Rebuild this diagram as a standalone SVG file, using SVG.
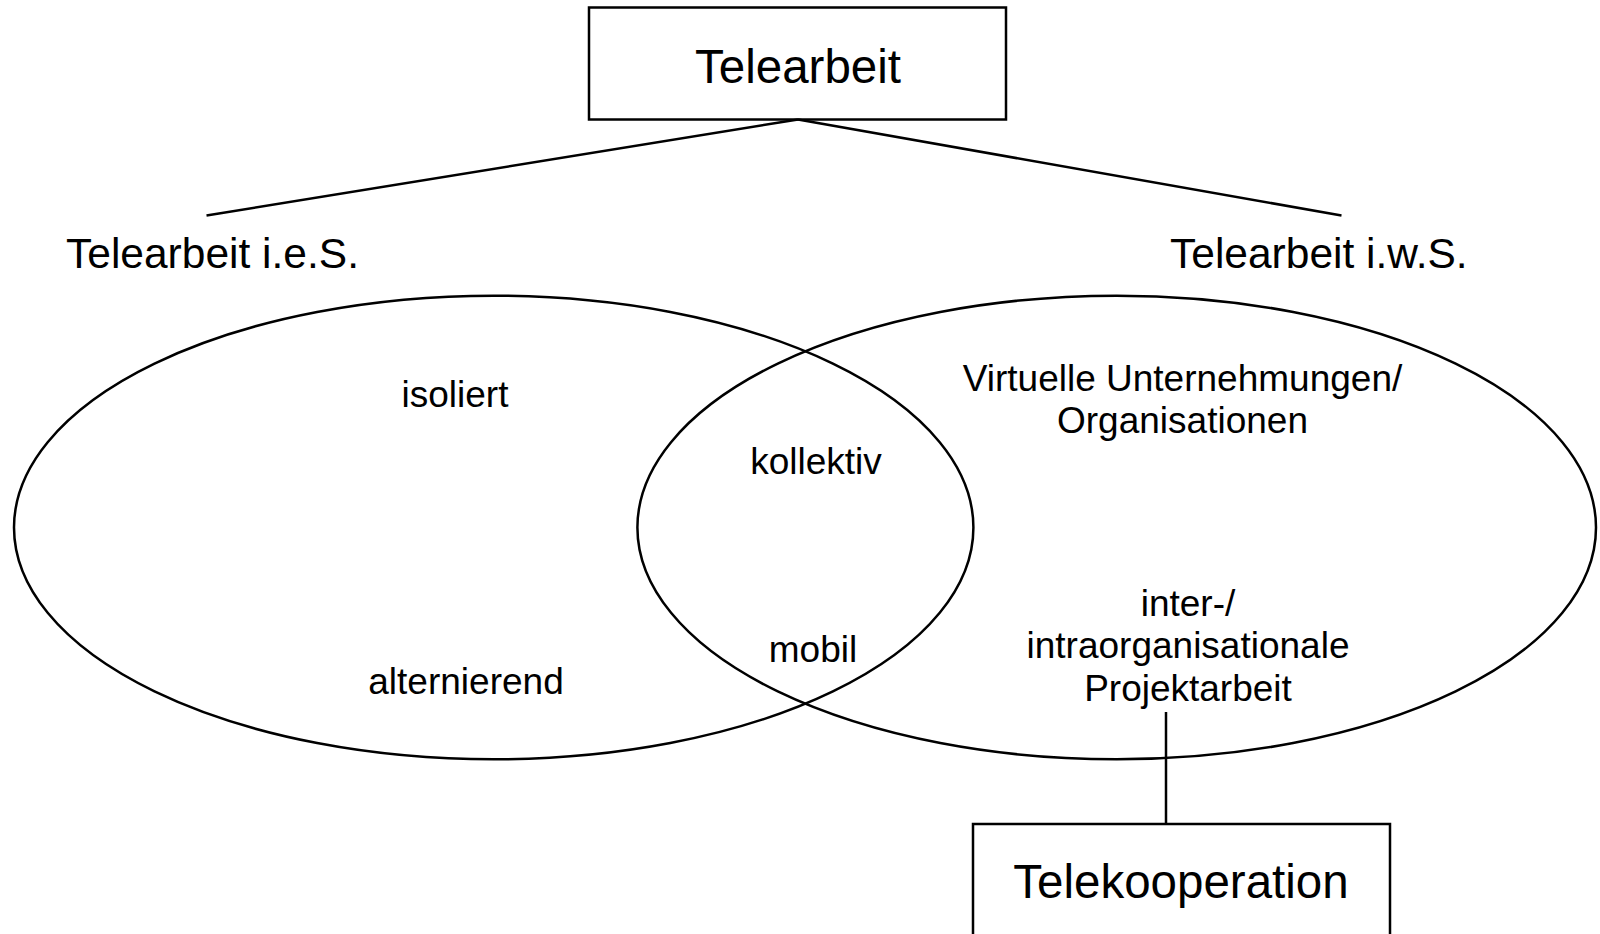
<svg xmlns="http://www.w3.org/2000/svg" width="1600" height="934" viewBox="0 0 1600 934">
<style>
.s{fill:none;stroke:#000;stroke-width:2.5}
text{font-family:"Liberation Sans",Arial,sans-serif;fill:#000}
.big{font-size:47.5px;text-anchor:middle}
.mid{font-size:42.5px}
.sm{font-size:37px;text-anchor:middle}
</style>
<rect width="1600" height="934" fill="#fff"/>
<g id="connectors">
<line class="s" x1="798" y1="119.5" x2="206.5" y2="215.5"/>
<line class="s" x1="798" y1="119.5" x2="1341.5" y2="215.5"/>
<line class="s" x1="1166" y1="712" x2="1166" y2="824"/>
</g>
<g id="node-telearbeit">
<rect class="s" x="589" y="7.5" width="417" height="112"/>
<text class="big" x="798" y="83">Telearbeit</text>
</g>
<g id="node-ies">
<text class="mid" x="66" y="268">Telearbeit i.e.S.</text>
</g>
<g id="node-iws">
<text class="mid" x="1170" y="268">Telearbeit i.w.S.</text>
</g>
<g id="ellipse-left">
<ellipse class="s" cx="493.7" cy="527.5" rx="479.7" ry="231.8"/>
</g>
<g id="ellipse-right">
<ellipse class="s" cx="1116.7" cy="527.5" rx="479.3" ry="231.8"/>
</g>
<g id="labels">
<text class="sm" x="455" y="407">isoliert</text>
<text class="sm" x="816" y="473.5">kollektiv</text>
<text class="sm" x="466" y="694">alternierend</text>
<text class="sm" x="813" y="662">mobil</text>
<text class="sm" x="1182.5" y="391">Virtuelle Unternehmungen/</text>
<text class="sm" x="1182.5" y="433">Organisationen</text>
<text class="sm" x="1188" y="616">inter-/</text>
<text class="sm" x="1188" y="658">intraorganisationale</text>
<text class="sm" x="1188" y="701">Projektarbeit</text>
</g>
<g id="node-telekooperation">
<rect class="s" x="973" y="824" width="417" height="140"/>
<text class="big" x="1181" y="898">Telekooperation</text>
</g>
</svg>
